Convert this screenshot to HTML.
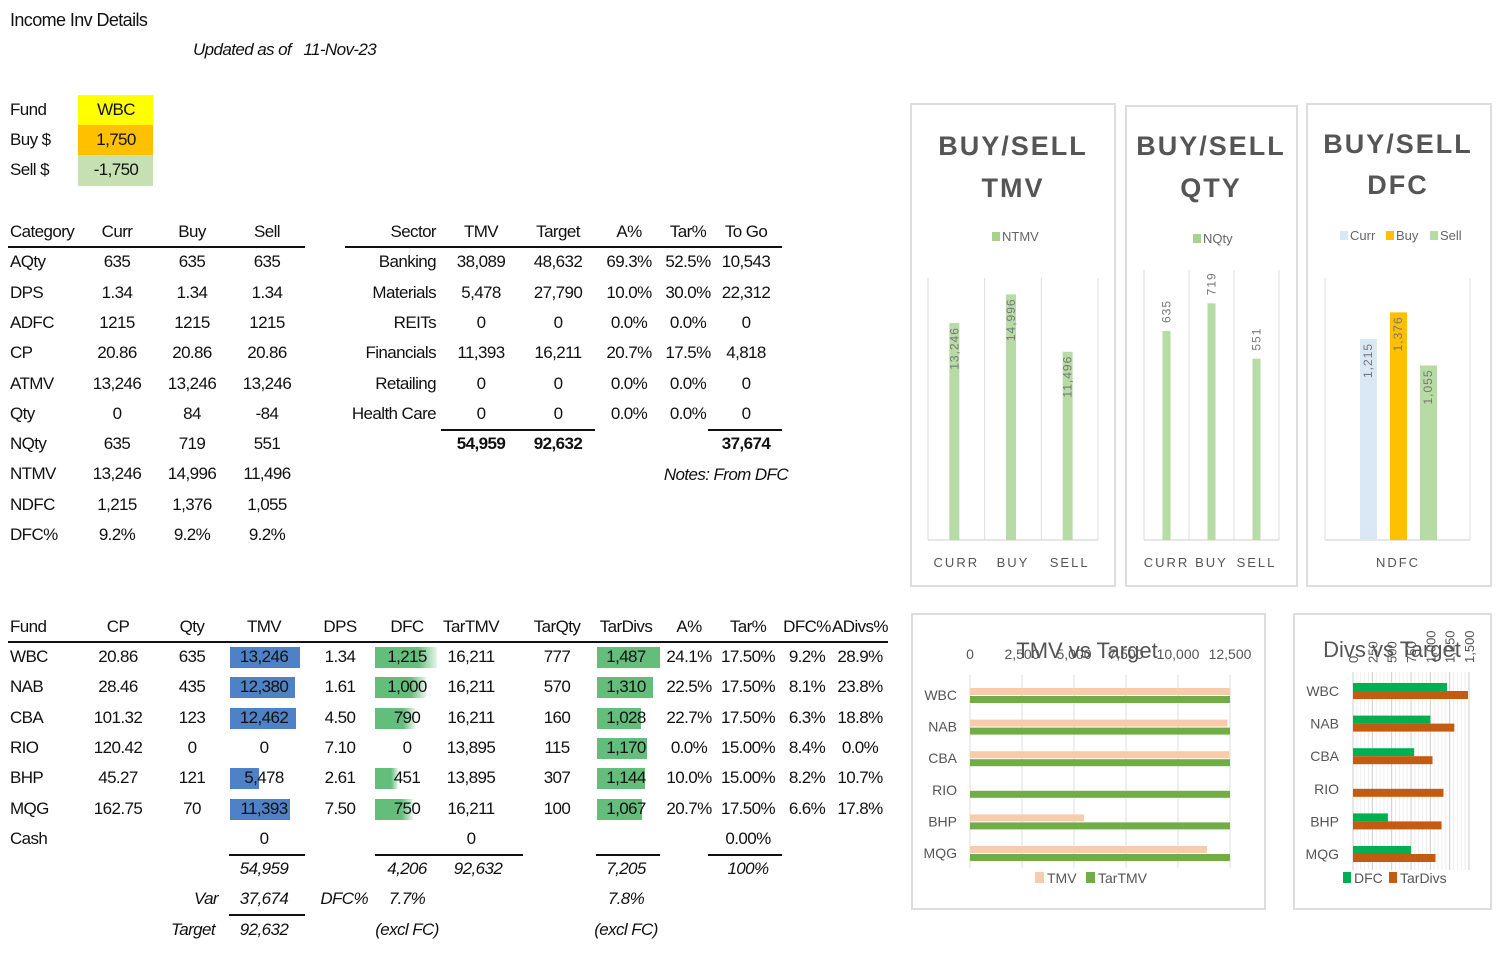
<!DOCTYPE html>
<html><head><meta charset="utf-8">
<style>
body{margin:0;width:1500px;height:955px;background:#fff;position:relative;overflow:hidden;font-family:"Liberation Sans",sans-serif;color:#111}
.t{position:absolute;font-size:17px;letter-spacing:-0.6px;white-space:nowrap;line-height:20px}
.ln{position:absolute;background:#111;height:2px}
.panel{position:absolute;border:2px solid #ddd;background:#fff}
svg text{font-family:"Liberation Sans",sans-serif}
</style></head><body>
<div class="t" style="left:10px;top:10px;font-size:18px">Income Inv Details</div>
<div class="t" style="left:193px;top:40px;font-style:italic">Updated as of&nbsp;&nbsp; 11-Nov-23</div>
<div style="position:absolute;left:78px;top:95px;width:75px;height:30px;background:#ffff00"></div>
<div style="position:absolute;left:78px;top:125px;width:75px;height:30px;background:#ffc000"></div>
<div style="position:absolute;left:78px;top:155px;width:75px;height:31px;background:#c6e0b4"></div>
<div id="root"></div>
<div class="panel" style="left:910px;top:103px;width:202px;height:480px"><svg id="c1" width="202" height="480"></svg></div>
<div class="panel" style="left:1125px;top:105px;width:169px;height:478px"><svg id="c2" width="169" height="478"></svg></div>
<div class="panel" style="left:1306px;top:103px;width:182px;height:480px"><svg id="c3" width="182" height="480"></svg></div>
<div class="panel" style="left:911px;top:613px;width:351px;height:293px"><svg id="c4" width="351" height="293"></svg></div>
<div class="panel" style="left:1293px;top:613px;width:195px;height:293px"><svg id="c5" width="195" height="293"></svg></div>
<script>
const ntmvCats=["CURR","BUY","SELL"];
const ntmvVals=[13246,14996,11496];
const nqtyVals=[635,719,551];
const ndfcSeries=["Curr","Buy","Sell"];
const ndfcVals=[1215,1376,1055];
const funds=["WBC","NAB","CBA","RIO","BHP","MQG"];
const tmvVals=[13246,12380,12462,0,5478,11393];
const tarTmvVals=[16211,16211,16211,13895,13895,16211];
const dfcVals=[1215,1000,790,0,451,750];
const tarDivVals=[1487,1310,1028,1170,1144,1067];
const tmvTicks=[0,2500,5000,7500,10000,12500];
const divTicks=[0,250,500,750,1000,1250,1500];

const root=document.getElementById('root');
function T(x,y,s,al,name,extra){const d=document.createElement('div');d.className='t';d.textContent=s;


if(al==='c'){d.style.left=(x-100)+'px';d.style.width='200px';d.style.textAlign='center';}
else if(al==='r'){d.style.left=(x-200)+'px';d.style.width='200px';d.style.textAlign='right';}
else d.style.left=x+'px';
d.style.top=(y-10)+'px';if(extra)d.style.cssText+=extra;root.appendChild(d);return d;}
function L(x1,x2,y,name){const d=document.createElement('div');d.className='ln';d.style.left=x1+'px';d.style.width=(x2-x1)+'px';d.style.top=y+'px';


root.appendChild(d);}
function fmt(v){return v.toLocaleString('en-US');}
// fund box
[["Fund","WBC",110],["Buy $","1,750",140],["Sell $","-1,750",170]].forEach(r=>{T(10,r[2],r[0],'l','input-label');T(116,r[2],r[1],'c','input-value');});
// category table
const catRows=[["Category","Curr","Buy","Sell"],["AQty","635","635","635"],["DPS","1.34","1.34","1.34"],["ADFC","1215","1215","1215"],["CP","20.86","20.86","20.86"],["ATMV","13,246","13,246","13,246"],["Qty","0","84","-84"],["NQty","635","719","551"],["NTMV","13,246","14,996","11,496"],["NDFC","1,215","1,376","1,055"],["DFC%","9.2%","9.2%","9.2%"]];
catRows.forEach((r,i)=>{const y=232+i*30.3;T(10,y,r[0],'l','category-cell');[117,192,267].forEach((x,j)=>T(x,y,r[j+1],'c','category-value'));});
L(8,305,246,'category-header-rule');
// sector table
const secRows=[["Sector","TMV","Target","A%","Tar%","To Go"],["Banking","38,089","48,632","69.3%","52.5%","10,543"],["Materials","5,478","27,790","10.0%","30.0%","22,312"],["REITs","0","0","0.0%","0.0%","0"],["Financials","11,393","16,211","20.7%","17.5%","4,818"],["Retailing","0","0","0.0%","0.0%","0"],["Health Care","0","0","0.0%","0.0%","0"]];
secRows.forEach((r,i)=>{const y=232+i*30.3;T(436,y,r[0],'r','sector-cell');[481,558,629,688,746].forEach((x,j)=>T(x,y,r[j+1],'c','sector-value'));});
L(345,782,246,'sector-header-rule');L(441,595,429,'sector-total-rule');L(708,782,429,'togo-total-rule');
T(481,444,"54,959",'c','sector-total-tmv','font-weight:bold');T(558,444,"92,632",'c','sector-total-target','font-weight:bold');T(746,444,"37,674",'c','sector-total-togo','font-weight:bold');
T(788,475,"Notes:  From DFC",'r','notes','font-style:italic');
// bottom fund table
const hdr=["Fund","CP","Qty","TMV","DPS","DFC","TarTMV","TarQty","TarDivs","A%","Tar%","DFC%","ADivs%"];
const cx=[10,118,192,264,340,407,471,557,626,689,748,807,860];
hdr.forEach((h,j)=>T(cx[j],627,h,j?'c':'l','fund-table-header'));
L(8,888,641,'fund-header-rule');
const cps=["20.86","28.46","101.32","120.42","45.27","162.75"],qtys=[635,435,123,0,121,70],dps=["1.34","1.61","4.50","7.10","2.61","7.50"],tq=[777,570,160,115,307,100],ap=["24.1%","22.5%","22.7%","0.0%","10.0%","20.7%"],tp=["17.50%","17.50%","17.50%","15.00%","15.00%","17.50%"],dp=["9.2%","8.1%","6.3%","8.4%","8.2%","6.6%"],adp=["28.9%","23.8%","18.8%","0.0%","10.7%","17.8%"];
funds.forEach((f,i)=>{const y=657+i*30.3;
 function bar(x,w,col,name){if(w<=0)return;const b=document.createElement('div');b.style.cssText=`position:absolute;left:${x}px;top:${y-10}px;width:${w}px;height:21px;background:${col}`;
 
 
 root.appendChild(b);}
 bar(230,tmvVals[i]/13246*70,'#4f81c7','tmv-databar');
 bar(375,dfcVals[i]/1215*62,'linear-gradient(90deg,#63be7b,#63be7b 70%,#e8f5ec)','dfc-databar');
 bar(597,tarDivVals[i]/1487*63,'#63be7b','tardivs-databar');
 const vals=[f,cps[i],qtys[i],fmt(tmvVals[i]),dps[i],fmt(dfcVals[i]),fmt(tarTmvVals[i]),tq[i],fmt(tarDivVals[i]),ap[i],tp[i],dp[i],adp[i]];
 vals.forEach((v,j)=>T(cx[j],y,String(v),j?'c':'l','fund-cell-'+hdr[j].toLowerCase()));});
T(10,839,"Cash",'l','cash-label');T(264,839,"0",'c','cash-tmv');T(471,839,"0",'c','cash-tartmv');T(748,839,"0.00%",'c','cash-tar');
L(229,305,854,'tmv-total-rule');L(375,523,854,'dfc-total-rule');L(596,660,854,'tardivs-total-rule');L(708,782,854,'tar-total-rule');
const it='font-style:italic';
T(264,869,"54,959",'c','total-tmv',it);T(407,869,"4,206",'c','total-dfc',it);T(478,869,"92,632",'c','total-tartmv',it);T(626,869,"7,205",'c','total-tardivs',it);T(748,869,"100%",'c','total-tar',it);
T(218,899,"Var",'r','var-label',it);T(264,899,"37,674",'c','var-value',it);T(368,899,"DFC%",'r','dfc-pct-label',it);T(407,899,"7.7%",'c','dfc-pct',it);T(626,899,"7.8%",'c','tar-dfc-pct',it);
L(229,305,914,'var-rule');
T(215,930,"Target",'r','target-label',it);T(264,930,"92,632",'c','target-value',it);T(407,930,"(excl FC)",'c','excl-note',it);T(626,930,"(excl FC)",'c','excl-note-2',it);

const NS='http://www.w3.org/2000/svg';
function S(svg,tag,attrs,name,txt){const e=document.createElementNS(NS,tag);for(const k in attrs)e.setAttribute(k,attrs[k]);


if(txt!==undefined)e.textContent=txt;svg.appendChild(e);return e;}
// vertical bar chart helper
function vchart(id,ox,oy,title2,x0,x1,base,top,max,cats,vals,colors,legend,catLabel){
 const svg=document.getElementById(id);
 const cxm=(x1+x0)/2;
 S(svg,'text',{x:cxm,y:50,'text-anchor':'middle','font-size':27,'font-weight':'bold',fill:'#555','letter-spacing':2},'chart-title','BUY/SELL');
 S(svg,'text',{x:cxm,y:92,'text-anchor':'middle','font-size':27,'font-weight':'bold',fill:'#555','letter-spacing':2},'chart-title',title2);
 const y=v=>base-v/max*(base-top);
 S(svg,'line',{x1:x0,x2:x1,y1:base,y2:base,stroke:'#d0d0d0'},'x-axis');
 let lx=legend.start;
 legend.items.forEach((it,k)=>{S(svg,'rect',{x:lx,y:126,width:8,height:8,fill:it[1]},'legend-swatch');S(svg,'text',{x:lx+10,y:135,'font-size':13,fill:'#666'},'legend-entry',it[0]);lx+=it[2];});
 if(catLabel){
  const g=(x1-x0)/cats.length;
  for(let k=0;k<=cats.length;k++)S(svg,'line',{x1:x0+k*g,x2:x0+k*g,y1:top-5,y2:base,stroke:'#ddd'},'gridline');
  vals.forEach((v,k)=>{const bx=x0+g*(k+.5);S(svg,'rect',{x:bx-5,y:y(v),width:10,height:base-y(v),fill:colors[k]},'bar-'+cats[k].toLowerCase());
   const ly=y(v)+4;S(svg,'text',{x:0,y:0,transform:`translate(${bx+4},${ly}) rotate(-90)`,'text-anchor':catLabel==='in'?'end':'start','font-size':12,fill:'#666','letter-spacing':1},'data-label',fmt(v));
   S(svg,'text',{x:bx,y:base+27,'text-anchor':'middle','font-size':13,fill:'#555','letter-spacing':2},'category-label',cats[k]);});
 }
 return {svg,y};
}
// chart1 (panel origin 911,105)
(function(){const svg=document.getElementById('c1');const ox=911,oy=105,x0=927-ox,x1=1097-ox,base=540-oy,top=278-oy,max=16000;
 S(svg,'text',{x:101,y:50,'text-anchor':'middle','font-size':27,'font-weight':'bold',fill:'#555','letter-spacing':2},'chart-title','BUY/SELL');
 S(svg,'text',{x:101,y:92,'text-anchor':'middle','font-size':27,'font-weight':'bold',fill:'#555','letter-spacing':2},'chart-title','TMV');
 S(svg,'rect',{x:80,y:127,width:8,height:9,fill:'#a9d18e'},'legend-swatch');S(svg,'text',{x:90,y:136,'font-size':13,fill:'#666'},'legend-entry','NTMV');
 const g=(x1-x0)/3;for(let k=0;k<=3;k++)S(svg,'line',{x1:x0+k*g,x2:x0+k*g,y1:top,y2:base,stroke:'#ddd'},'gridline');
 S(svg,'line',{x1:x0,x2:x1,y1:base,y2:base,stroke:'#ccc'},'x-axis');
 const y=v=>base-v/max*(base-top);
 ntmvVals.forEach((v,k)=>{const bx=x0+g*(k+.5)-2;S(svg,'rect',{x:bx-5,y:y(v),width:10,height:base-y(v),fill:'#b7dba4'},'bar-'+ntmvCats[k].toLowerCase());
  S(svg,'text',{transform:`translate(${bx+4},${y(v)+4}) rotate(-90)`,'text-anchor':'end','font-size':12,fill:'#777','letter-spacing':1},'data-label',fmt(v));
  S(svg,'text',{x:bx+2,y:base+27,'text-anchor':'middle','font-size':13,fill:'#555','letter-spacing':2},'category-label',ntmvCats[k]);});})();
// chart2 (origin 1126,107)
(function(){const svg=document.getElementById('c2');const ox=1126,oy=107,x0=1143-ox,x1=1278-ox,base=540-oy,top=278-oy,max=900;
 S(svg,'text',{x:84,y:48,'text-anchor':'middle','font-size':27,'font-weight':'bold',fill:'#555','letter-spacing':2},'chart-title','BUY/SELL');
 S(svg,'text',{x:84,y:90,'text-anchor':'middle','font-size':27,'font-weight':'bold',fill:'#555','letter-spacing':2},'chart-title','QTY');
 S(svg,'rect',{x:66,y:127,width:8,height:9,fill:'#a9d18e'},'legend-swatch');S(svg,'text',{x:76,y:136,'font-size':13,fill:'#666'},'legend-entry','NQty');
 const g=(x1-x0)/3;for(let k=0;k<=3;k++)S(svg,'line',{x1:x0+k*g,x2:x0+k*g,y1:top-8,y2:base,stroke:'#ddd'},'gridline');
 S(svg,'line',{x1:x0,x2:x1,y1:base,y2:base,stroke:'#ccc'},'x-axis');
 const sc=209/635;const y=v=>base-v*sc;
 nqtyVals.forEach((v,k)=>{const bx=x0+g*(k+.5);S(svg,'rect',{x:bx-4,y:y(v),width:8,height:base-y(v),fill:'#b7dba4'},'bar-'+ntmvCats[k].toLowerCase());
  S(svg,'text',{transform:`translate(${bx+4},${y(v)-8}) rotate(-90)`,'text-anchor':'start','font-size':12,fill:'#777','letter-spacing':1},'data-label',fmt(v));
  S(svg,'text',{x:bx,y:base+27,'text-anchor':'middle','font-size':13,fill:'#555','letter-spacing':2},'category-label',ntmvCats[k]);});})();
// chart3 (origin 1308,105)
(function(){const svg=document.getElementById('c3');const ox=1308,oy=105,x0=1325-ox,x1=1470-ox,base=540-oy,max=1600,sc=201/1215;
 S(svg,'text',{x:90,y:48,'text-anchor':'middle','font-size':27,'font-weight':'bold',fill:'#555','letter-spacing':2},'chart-title','BUY/SELL');
 S(svg,'text',{x:90,y:89,'text-anchor':'middle','font-size':27,'font-weight':'bold',fill:'#555','letter-spacing':2},'chart-title','DFC');
 const cols=['#dae7f5','#ffc000','#b7dba4'];
 [[32,'Curr'],[78,'Buy'],[122,'Sell']].forEach((it,k)=>{S(svg,'rect',{x:it[0],y:126,width:8,height:9,fill:cols[k]},'legend-swatch');S(svg,'text',{x:it[0]+10,y:135,'font-size':13,fill:'#666'},'legend-entry',ndfcSeries[k]);});
 S(svg,'line',{x1:x0,x2:x0,y1:278-oy,y2:base,stroke:'#ddd'},'gridline');S(svg,'line',{x1:x1,x2:x1,y1:278-oy,y2:base,stroke:'#ddd'},'gridline');
 S(svg,'line',{x1:x0,x2:x1,y1:base,y2:base,stroke:'#ccc'},'x-axis');
 const y=v=>base-v*sc;
 ndfcVals.forEach((v,k)=>{const bx=1368-ox+k*30;S(svg,'rect',{x:bx-8,y:y(v),width:17,height:base-y(v),fill:cols[k]},'bar-'+ndfcSeries[k].toLowerCase());
  S(svg,'text',{transform:`translate(${bx+4},${y(v)+4}) rotate(-90)`,'text-anchor':'end','font-size':12,fill:'#777','letter-spacing':1},'data-label',fmt(v));});
 S(svg,'text',{x:90,y:base+27,'text-anchor':'middle','font-size':13,fill:'#555','letter-spacing':2},'category-label','NDFC');})();
// chart4 (origin 913,615)
(function(){const svg=document.getElementById('c4');const ox=913,oy=615,x0=970-ox,x1=1230-ox,max=12500;
 const x=v=>x0+Math.min(v,max)/max*(x1-x0);
 tmvTicks.forEach(t=>{S(svg,'line',{x1:x(t),x2:x(t),y1:675-oy,y2:868-oy,stroke:'#ddd'},'gridline');S(svg,'text',{x:x(t),y:654-oy+5,'text-anchor':'middle','font-size':14,fill:'#555'},'x-tick-label',fmt(t));});
 S(svg,'text',{x:1087-ox,y:658-oy,'text-anchor':'middle','font-size':22,fill:'#555'},'chart-title','TMV vs Target');
 funds.forEach((f,i)=>{const cy=695-oy+i*31.6;
  S(svg,'text',{x:957-ox,y:cy+5,'text-anchor':'end','font-size':14,fill:'#555'},'y-category-label',f);
  if(tmvVals[i]>0)S(svg,'rect',{x:x0,y:cy-7,width:x(tmvVals[i])-x0,height:7,fill:'#f8cbad'},'bar-tmv-'+f.toLowerCase());
  S(svg,'rect',{x:x0,y:cy+1,width:x(tarTmvVals[i])-x0,height:7,fill:'#70ad47'},'bar-tartmv-'+f.toLowerCase());});
 S(svg,'rect',{x:1035-ox,y:872-oy,width:9,height:11,fill:'#f8cbad'},'legend-swatch');S(svg,'text',{x:1047-ox,y:883-oy,'font-size':14,fill:'#555'},'legend-entry','TMV');
 S(svg,'rect',{x:1086-ox,y:872-oy,width:9,height:11,fill:'#70ad47'},'legend-swatch');S(svg,'text',{x:1098-ox,y:883-oy,'font-size':14,fill:'#555'},'legend-entry','TarTMV');})();
// chart5 (origin 1295,615)
(function(){const svg=document.getElementById('c5');const ox=1295,oy=615,x0=1353-ox,x1=1469-ox,max=1500;
 const x=v=>x0+v/max*(x1-x0);
 for(let m=0;m<=max;m+=50)S(svg,'line',{x1:x(m),x2:x(m),y1:672-oy,y2:870-oy,stroke:m%250===0?'#ccc':'#eee'},'gridline');
 S(svg,'text',{x:1392-ox,y:657-oy,'text-anchor':'middle','font-size':22,fill:'#555'},'chart-title','Divs vs Target');
 divTicks.forEach(t=>S(svg,'text',{transform:`translate(${x(t)+5},${663-oy}) rotate(-90)`,'font-size':13,fill:'#555'},'x-tick-label',fmt(t)));
 funds.forEach((f,i)=>{const cy=691-oy+i*32.6;
  S(svg,'text',{x:1339-ox,y:cy+5,'text-anchor':'end','font-size':14,fill:'#555'},'y-category-label',f);
  if(dfcVals[i]>0)S(svg,'rect',{x:x0,y:cy-8,width:x(dfcVals[i])-x0,height:8,fill:'#00b050'},'bar-dfc-'+f.toLowerCase());
  S(svg,'rect',{x:x0,y:cy,width:x(tarDivVals[i])-x0,height:8,fill:'#c55a11'},'bar-tardivs-'+f.toLowerCase());});
 S(svg,'rect',{x:1343-ox,y:872-oy,width:8,height:11,fill:'#00b050'},'legend-swatch');S(svg,'text',{x:1354-ox,y:883-oy,'font-size':14,fill:'#555'},'legend-entry','DFC');
 S(svg,'rect',{x:1389-ox,y:872-oy,width:8,height:11,fill:'#c55a11'},'legend-swatch');S(svg,'text',{x:1400-ox,y:883-oy,'font-size':14,fill:'#555'},'legend-entry','TarDivs');})();
</script>
</body></html>
